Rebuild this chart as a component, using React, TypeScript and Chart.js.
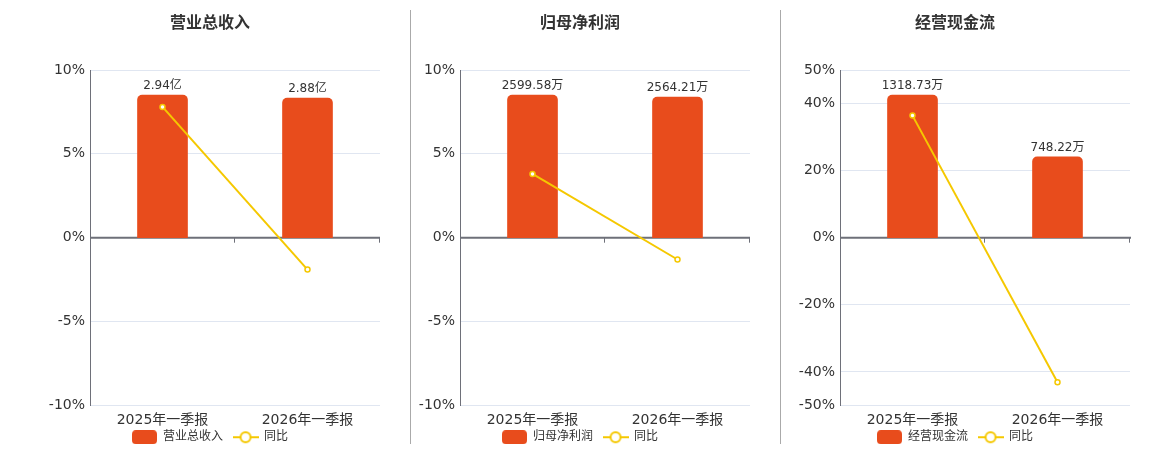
import React, { useEffect, useRef } from 'react';
import { Chart, registerables } from 'chart.js';

Chart.register(...registerables);
Chart.defaults.font.family = '"DejaVu Sans", "Noto Sans CJK SC", sans-serif';

const categories = ['2025年一季报', '2026年一季报'];
const revenueValues = [2.94, 2.88];
const revenueYoy = [7.8, -1.9];
const profitValues = [2599.58, 2564.21];
const profitYoy = [3.8, -1.3];
const cashflowValues = [1318.73, 748.22];
const cashflowYoy = [36.4, -43.1];
const smallTicks = [-10, -5, 0, 5, 10];
const cashTicks = [-50, -40, -20, 0, 20, 40, 50];

const BAR_COLOR = '#e84c1c';
const LINE_COLOR = '#f5c800';
const AXIS_COLOR = '#6e7079';
const GRID_COLOR = '#e0e6f1';

function makeBarIcon() {
  const c = document.createElement('canvas');
  c.width = 25;
  c.height = 14;
  const ctx = c.getContext('2d')!;
  ctx.fillStyle = BAR_COLOR;
  ctx.beginPath();
  ctx.roundRect(0, 0, 25, 14, 4);
  ctx.fill();
  return c;
}

function makeLineIcon() {
  const c = document.createElement('canvas');
  c.width = 26;
  c.height = 14;
  const ctx = c.getContext('2d')!;
  ctx.strokeStyle = LINE_COLOR;
  ctx.lineWidth = 2;
  ctx.beginPath();
  ctx.moveTo(0, 7);
  ctx.lineTo(26, 7);
  ctx.stroke();
  ctx.beginPath();
  ctx.arc(13, 7, 5, 0, Math.PI * 2);
  ctx.fillStyle = '#fff';
  ctx.fill();
  ctx.stroke();
  return c;
}

// zero line with little category ticks under it
const zeroLinePlugin = {
  id: 'zeroLine',
  beforeDatasetsDraw(chart: any) {
    const { ctx, chartArea, scales } = chart;
    const y0 = scales.y.getPixelForValue(0);
    const n = chart.data.labels.length;
    ctx.save();
    ctx.strokeStyle = AXIS_COLOR;
    ctx.lineWidth = 2;
    ctx.beginPath();
    ctx.moveTo(chartArea.left, y0);
    ctx.lineTo(chartArea.right + 1, y0);
    ctx.stroke();
    ctx.lineWidth = 1;
    for (let i = 1; i <= n; i++) {
      const x = Math.round(chartArea.left + (i * (chartArea.right - chartArea.left)) / n) - 0.5;
      ctx.beginPath();
      ctx.moveTo(x, y0);
      ctx.lineTo(x, y0 + 5);
      ctx.stroke();
    }
    ctx.restore();
  },
};

const barLabelPlugin = {
  id: 'barLabels',
  afterDatasetsDraw(chart: any, _args: any, opts: any) {
    const { ctx } = chart;
    const meta = chart.getDatasetMeta(0);
    ctx.save();
    ctx.font = '12px "DejaVu Sans", "Noto Sans CJK SC", sans-serif';
    ctx.fillStyle = '#333';
    ctx.textAlign = 'center';
    ctx.textBaseline = 'bottom';
    meta.data.forEach((bar: any, i: number) => {
      const v = chart.data.datasets[0].data[i];
      ctx.fillText(v.toFixed(2) + opts.unit, bar.x, bar.y - 3);
    });
    ctx.restore();
  },
};

// pull the legend up closer to the axis labels
const legendShiftPlugin = {
  id: 'legendShift',
  afterLayout(chart: any) {
    const l = chart.legend;
    if (l) {
      l.top -= 8;
      l.bottom -= 8;
    }
  },
};

type PanelProps = {
  title: string;
  name: string;
  values: number[];
  unit: string;
  yoy: number[];
  ticks: number[];
  left: number;
  width: number;
  axisWidth: number;
  rightPad: number;
};

const Panel: React.FC<PanelProps> = ({ title, name, values, unit, yoy, ticks, left, width, axisWidth, rightPad }) => {
  const chartRef = useRef<HTMLCanvasElement>(null);
  const chartInstance = useRef<Chart | null>(null);

  useEffect(() => {
    if (chartInstance.current) {
      chartInstance.current.destroy();
    }
    if (!chartRef.current) return;
    const barIcon = makeBarIcon();
    const lineIcon = makeLineIcon();
    const barMax = Math.max(...values) / 0.85;
    const pctMax = ticks[ticks.length - 1];

    // @ts-ignore
    chartInstance.current = new Chart(chartRef.current, {
      type: 'bar',
      data: {
        labels: categories,
        datasets: [
          {
            type: 'bar',
            label: name,
            data: values,
            backgroundColor: BAR_COLOR,
            borderRadius: 5,
            barThickness: 50,
            yAxisID: 'y1',
            order: 1,
          },
          {
            type: 'line',
            label: '同比',
            data: yoy,
            borderColor: LINE_COLOR,
            borderWidth: 2,
            pointRadius: 2.5,
            pointBorderWidth: 1.5,
            pointBackgroundColor: '#fff',
            pointBorderColor: LINE_COLOR,
            yAxisID: 'y',
            order: 0,
          },
        ],
      },
      options: {
        responsive: false,
        maintainAspectRatio: false,
        animation: false,
        layout: { autoPadding: false, padding: { top: 0, right: rightPad, bottom: -11.2, left: 0 } },
        plugins: {
          title: {
            display: true,
            text: title,
            color: '#333',
            font: { size: 16, weight: 'bold' },
            padding: { top: 14, bottom: 36.8 },
          },
          legend: {
            position: 'bottom',
            labels: {
              usePointStyle: true,
              pointStyleWidth: 25,
              boxHeight: 14,
              color: '#333',
              font: { size: 12 },
              padding: 10,
              sort: (a: any, b: any) => a.datasetIndex - b.datasetIndex,
              generateLabels: (chart: any) =>
                Chart.defaults.plugins.legend.labels
                  .generateLabels(chart)
                  .map((item: any) => ({ ...item, pointStyle: item.datasetIndex === 0 ? barIcon : lineIcon })),
            },
          },
          tooltip: { enabled: false },
          barLabels: { unit },
        },
        scales: {
          x: {
            offset: true,
            grid: { display: false, drawTicks: true, tickLength: 7 },
            border: { display: false },
            ticks: { color: '#333', font: { size: 14 }, padding: 0 },
          },
          y: {
            min: -pctMax,
            max: pctMax,
            afterBuildTicks: (scale: any) => {
              scale.ticks = ticks.map((v) => ({ value: v }));
            },
            afterFit: (scale: any) => {
              scale.width = axisWidth;
            },
            grid: {
              color: (c: any) => (c.tick && c.tick.value === 0 ? 'rgba(0,0,0,0)' : GRID_COLOR),
              drawTicks: false,
            },
            border: { display: true, color: AXIS_COLOR, width: 1 },
            ticks: {
              color: '#333',
              font: { size: 14 },
              padding: 5,
              callback: (v: any) => v + '%',
            },
          },
          y1: {
            display: false,
            min: -barMax,
            max: barMax,
          },
        },
      },
      plugins: [zeroLinePlugin, barLabelPlugin, legendShiftPlugin],
    });

    return () => {
      if (chartInstance.current) {
        chartInstance.current.destroy();
        chartInstance.current = null;
      }
    };
  }, [title, name, values, unit, yoy, ticks, axisWidth, rightPad]);

  return (
    <div style={{ position: 'absolute', left, top: 0, width, height: 450 }}>
      <canvas ref={chartRef} width={width} height={450}></canvas>
    </div>
  );
};

const divider = (x: number) => (
  <div style={{ position: 'absolute', left: x, top: 10, width: 1, height: 434, background: '#aaa' }} />
);

export default function App() {
  return (
    <div style={{ position: 'absolute', left: 0, top: 0, width: 1160, height: 450, background: '#fff' }}>
      <Panel title="营业总收入" name="营业总收入" values={revenueValues} unit="亿" yoy={revenueYoy} ticks={smallTicks}
        left={40} width={340} axisWidth={50} rightPad={0} />
      {divider(410)}
      <Panel title="归母净利润" name="归母净利润" values={profitValues} unit="万" yoy={profitYoy} ticks={smallTicks}
        left={410} width={340} axisWidth={50} rightPad={0} />
      {divider(780)}
      <Panel title="经营现金流" name="经营现金流" values={cashflowValues} unit="万" yoy={cashflowYoy} ticks={cashTicks}
        left={780} width={360} axisWidth={60} rightPad={10} />
    </div>
  );
}
